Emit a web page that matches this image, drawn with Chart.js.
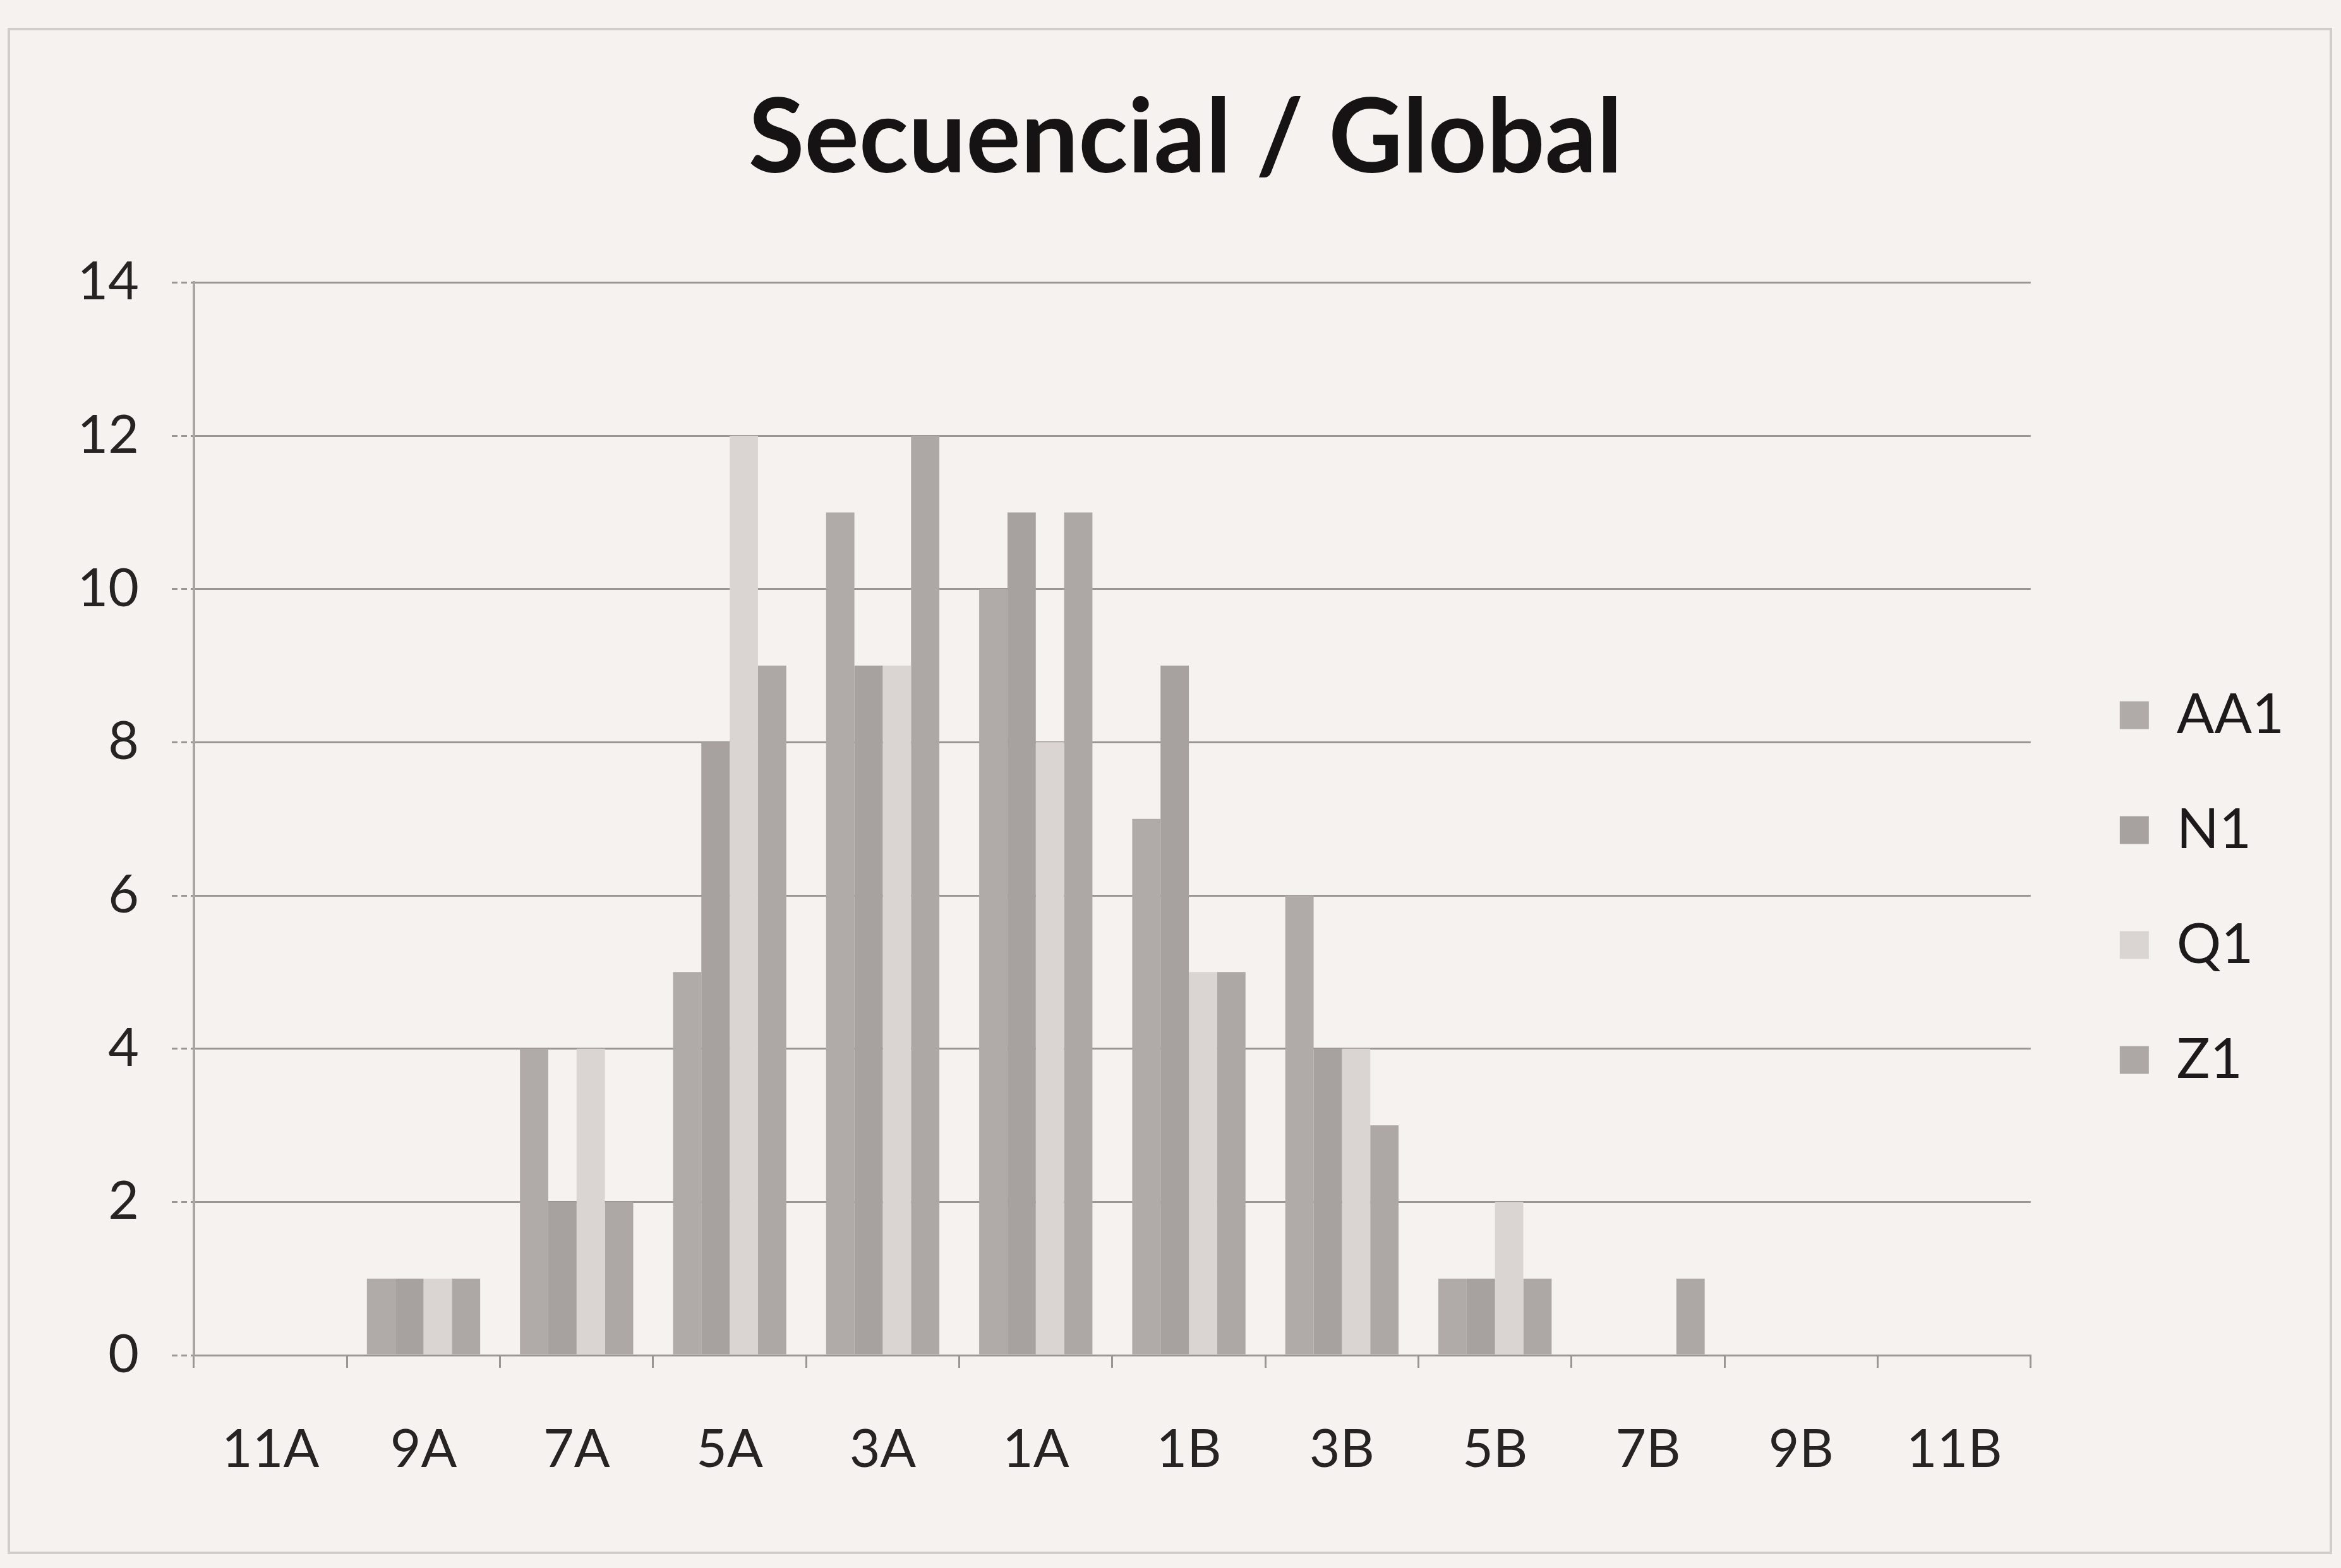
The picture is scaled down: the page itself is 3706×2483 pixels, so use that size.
<!DOCTYPE html>
<html>
<head>
<meta charset="utf-8">
<title>Secuencial / Global</title>
<script src="https://cdn.jsdelivr.net/npm/chart.js@4.4.1/dist/chart.umd.min.js"></script>
<style>
    html, body { margin: 0; padding: 0; background: #f5f2f0; }
</style>
</head>
<body>
<canvas id="grafico" width="3706" height="2483"></canvas>
<script>
var categorias = ['11A', '9A', '7A', '5A', '3A', '1A', '1B', '3B', '5B', '7B', '9B', '11B'];

var valoresAA1 = [0, 1, 4, 5, 11, 10, 7, 6, 1, 0, 0, 0];
var valoresN1  = [0, 1, 2, 8, 9, 11, 9, 4, 1, 0, 0, 0];
var valoresQ1  = [0, 1, 4, 12, 9, 8, 5, 4, 2, 0, 0, 0];
var valoresZ1  = [0, 1, 2, 9, 12, 11, 5, 3, 1, 1, 0, 0];

var ejeY = { min: 0, max: 14, paso: 2 };

var fuente = 'Lato, "Open Sans", sans-serif';
var gris = '#9b9694';

// paper background and the thin frame round the chart
var fondo = {
    id: 'fondo',
    beforeDraw: function(chart) {
        var ctx = chart.ctx;
        ctx.save();
        ctx.fillStyle = '#f5f2f0';
        ctx.fillRect(0, 0, chart.width, chart.height);
        ctx.strokeStyle = '#d2cdcb';
        ctx.lineWidth = 4;
        ctx.strokeRect(14, 46, chart.width - 30, chart.height - 70);
        ctx.restore();
    }
};

function serie(nombre, datos, color) {
    return {
        label: nombre,
        data: datos,
        backgroundColor: color,
        borderWidth: 0,
        categoryPercentage: 0.74,
        barPercentage: 1.0
    };
}

window.addEventListener('DOMContentLoaded', function() {
    new Chart(document.getElementById('grafico'), {
        type: 'bar',
        data: {
            labels: categorias,
            datasets: [
                serie('AA1', valoresAA1, '#b0aaa8'),
                serie('N1', valoresN1, '#a7a1a0'),
                serie('Q1', valoresQ1, '#dad5d3'),
                serie('Z1', valoresZ1, '#ada7a5')
            ]
        },
        options: {
            responsive: false,
            animation: false,
            layout: { padding: { left: 127, right: 80, top: 0, bottom: 0 } },
            plugins: {
                title: {
                    display: true,
                    text: 'Secuencial / Global',
                    color: '#151313',
                    font: { family: fuente, size: 162, weight: 'bold' },
                    padding: { top: 124, bottom: 129 }
                },
                legend: {
                    position: 'right',
                    align: 'start',
                    fullSize: false,
                    title: {
                        display: true,
                        text: '',
                        font: { size: 10 },
                        padding: { top: 0, bottom: 535 }
                    },
                    labels: {
                        color: '#1c1a1a',
                        font: { family: fuente, size: 88 },
                        boxWidth: 46,
                        boxHeight: 44,
                        padding: 94
                    }
                },
                tooltip: { enabled: false }
            },
            scales: {
                x: {
                    offset: true,
                    grid: {
                        display: true,
                        offset: true,
                        drawOnChartArea: false,
                        drawTicks: true,
                        tickLength: 20,
                        color: gris,
                        lineWidth: 3
                    },
                    border: { display: true, color: gris, width: 3, dash: [9, 6] },
                    ticks: {
                        color: '#262323',
                        font: { family: fuente, size: 84 },
                        padding: 80,
                        maxRotation: 0,
                        autoSkip: false
                    },
                    afterFit: function(escala) { escala.height = 2483 - 2146; }
                },
                y: {
                    min: ejeY.min,
                    max: ejeY.max,
                    grid: {
                        color: gris,
                        lineWidth: 3,
                        tickLength: 35,
                        tickColor: gris,
                        tickBorderDash: [9, 6]
                    },
                    border: { display: true, color: '#aaa5a3', width: 4, dash: [] },
                    ticks: {
                        stepSize: ejeY.paso,
                        color: '#262323',
                        font: { family: fuente, size: 84 },
                        padding: 52
                    },
                    afterFit: function(escala) { escala.width = 180; }
                },
                hueco: {
                    type: 'linear',
                    position: 'right',
                    display: true,
                    grid: { display: false },
                    border: { display: false },
                    ticks: { display: false },
                    afterFit: function(escala) { escala.width = 47; }
                }
            }
        },
        plugins: [fondo]
    });
});
</script>
</body>
</html>
